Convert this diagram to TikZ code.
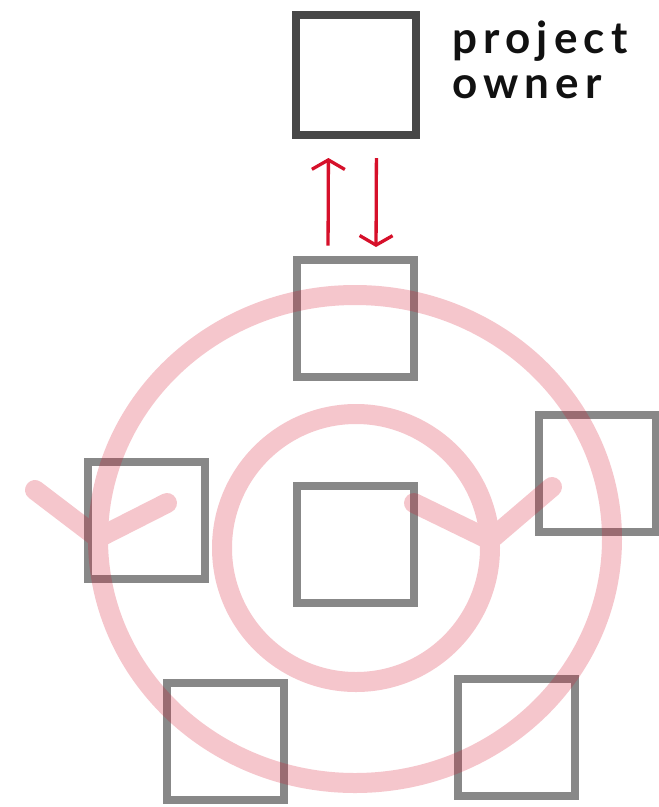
\documentclass[tikz,border=0pt]{standalone}
\usepackage{fontspec}
\newfontfamily\latofont{Lato}[LetterSpace=14]
\usetikzlibrary{arrows.meta}
\definecolor{boxgray}{HTML}{888888}
\definecolor{ownergray}{HTML}{474747}
\definecolor{flowred}{HTML}{D6102A}
\definecolor{textblack}{HTML}{111111}
\tikzset{
  teambox/.style={draw=boxgray, line width=8pt, minimum size=117pt, inner sep=0pt},
  ownerbox/.style={draw=ownergray, line width=8pt, minimum size=120pt, inner sep=0pt},
  ownerlabel/.style={anchor=base west, inner sep=0pt, text=textblack,
    font=\latofont\bfseries\fontsize{44}{46}\selectfont},
  flowarrow/.style={draw=flowred, line width=3.3pt, -{Straight Barb[length=9.5pt,width=33pt]}},
  cycle/.style={draw=flowred, line width=20pt, line cap=round, line join=round},
}
\begin{document}
\begin{tikzpicture}[x=1pt,y=-1pt]
\useasboundingbox (0,0) rectangle (659,807);
% boxes
\node[ownerbox] (owner) at (355.5,75) {};
\node[teambox] (lead) at (355,318) {};
\node[teambox] (center) at (355,544.5) {};
\node[teambox] (left) at (146,520.5) {};
\node[teambox] (right) at (597,473) {};
\node[teambox] (bl) at (225,741) {};
\node[teambox] (br) at (516.5,737) {};
% label
\node[ownerlabel] (lab1) at (452,53) {project};
\node[ownerlabel] (lab2) at (452,98) {owner};
% red arrows
\draw[flowarrow, shorten <=10pt, shorten >=19pt] ([xshift=-27pt]lead.north) -- ([xshift=-27pt]owner.south);
\draw[flowarrow, shorten <=19pt, shorten >=8.5pt] ([xshift=21pt]owner.south) -- ([xshift=21pt]lead.north);
% pink cycles
\begin{scope}[transparency group, opacity=0.24]
  \coordinate (oc) at (355,539);
  \coordinate (ic) at (356,548);
  \draw[cycle] (oc) ellipse [x radius=257pt, y radius=244pt];
  \draw[cycle] (35,490) -- (98,538) -- (167,503);
  \draw[cycle] (ic) circle [radius=134pt];
  \draw[cycle] (414,503) -- (490,540) -- (552,487);
\end{scope}
\end{tikzpicture}
\end{document}
